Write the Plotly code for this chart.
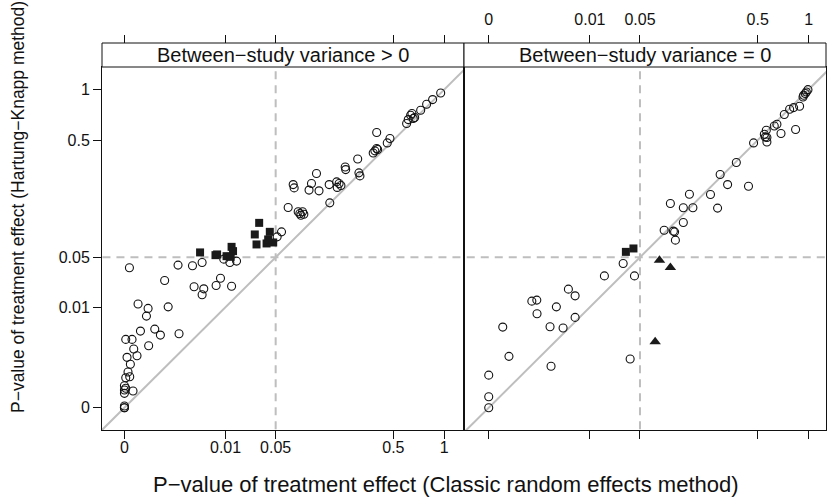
import plotly.graph_objects as go

# ---------------- data (p-values) ----------------
tick_p = [0, 0.01, 0.05, 0.5, 1]
tick_labels = ["0", "0.01", "0.05", "0.5", "1"]

# Panel 1: Between-study variance > 0
left_circ_classic = [0.956, 0.862, 0.797, 0.736, 0.678, 0.641, 0.620, 0.606, 0.653, 0.665,
                     0.387, 0.475, 0.456, 0.387, 0.376, 0.366, 0.393, 0.283, 0.227, 0.229,
                     0.289, 0.294, 0.130, 0.0775, 0.0793, 0.117, 0.111, 0.137, 0.168, 0.194,
                     0.203, 0.196, 0.210, 0.170, 0.0687, 0.0871, 0.0962, 0.0926, 0.099, 0.0905,
                     0.0582, 0.052, 0.0151, 0.0118, 0.00932, 0.0126, 6e-8, 7.9e-4, 0.00205, 0.00348,
                     2.5e-4, 0.00225, 0.00379, 0.00348, 0.00814, 0.00675, 3.3e-6, 3.0e-5, 2.25e-5, 3.5e-4,
                     6.3e-6, 8.1e-5, 1.6e-4, 8.5e-4, 3e-10, 3.2e-7, 3.3e-5, 7.2e-7, 2.4e-6, 4.4e-9,
                     1.2e-7, 1.6e-8, 7.6e-8, 3e-10, 0, 3e-10, 0, 0, 5.2e-7, 0, 0, 0]
left_circ_hk = [0.958, 0.880, 0.828, 0.764, 0.692, 0.714, 0.673, 0.637, 0.731, 0.683,
                0.560, 0.513, 0.480, 0.441, 0.425, 0.411, 0.434, 0.374, 0.328, 0.314,
                0.297, 0.282, 0.294, 0.242, 0.228, 0.247, 0.219, 0.216, 0.242, 0.254,
                0.247, 0.230, 0.238, 0.172, 0.157, 0.144, 0.144, 0.134, 0.137, 0.139,
                0.0934, 0.0832, 0.0451, 0.0435, 0.0476, 0.0213, 0.0374, 0.0404, 0.0396, 0.0435,
                0.0256, 0.0209, 0.0195, 0.0159, 0.0275, 0.0218, 0.0113, 0.0095, 0.00688, 0.0101,
                0.00337, 0.00373, 0.00272, 0.00292, 0.00213, 0.00213, 0.00144, 0.00116, 7.1e-4, 6.3e-4,
                3.5e-4, 1.6e-4, 9.0e-5, 7.9e-5, 2.3e-5, 1.4e-5, 9.5e-6, 4.2e-6, 7.6e-6, 1e-9, 0, 0]
left_sq_classic = [0.00313, 0.00657, 0.00705, 0.0104, 0.0126, 0.0133, 0.0122,
                   0.0315, 0.0276, 0.0427, 0.0291, 0.039, 0.0468, 0.0408]
left_sq_hk = [0.0568, 0.0529, 0.0539, 0.0515, 0.0654, 0.0587, 0.0506,
              0.114, 0.088, 0.0934, 0.0694, 0.0711, 0.0728, 0.0783]

# Panel 2: Between-study variance = 0
right_circ_classic = [0.992, 0.972, 0.939, 0.959, 0.932, 0.892, 0.825, 0.783, 0.729, 0.847,
                      0.659, 0.635, 0.697, 0.567, 0.551, 0.572, 0.572, 0.559, 0.470, 0.359,
                      0.274, 0.311, 0.435, 0.155, 0.231, 0.104, 0.137, 0.166, 0.262, 0.137,
                      0.0905, 0.111, 0.114, 0.116, 0.0312, 0.0171, 0.0431, 0.00385, 0.00532, 3.3e-4,
                      5.1e-4, 0.0020, 5.2e-4, 0.00532, 3.7e-6, 0.00135, 0.00292, 1.6e-5, 0.00144, 0.0382,
                      0, 0, 0]
right_circ_hk = [0.999, 0.970, 0.930, 0.951, 0.910, 0.806, 0.792, 0.775, 0.721, 0.585,
                 0.630, 0.615, 0.552, 0.579, 0.546, 0.520, 0.487, 0.525, 0.480, 0.353,
                 0.289, 0.242, 0.235, 0.203, 0.202, 0.170, 0.156, 0.156, 0.155, 0.115,
                 0.0970, 0.0949, 0.0934, 0.0770, 0.0423, 0.0295, 0.0295, 0.0193, 0.0153, 0.0126,
                 0.0131, 0.0101, 0.0076, 0.0065, 0.00413, 0.00419, 0.00393, 6.8e-4, 2.9e-4, 5.5e-4,
                 1.1e-4, 1.4e-6, 0]
right_sq_classic = [0.0338, 0.0419]
right_sq_hk = [0.0576, 0.0628]
right_tri_classic = [0.0812, 0.104, 0.0733]
right_tri_hk = [0.0463, 0.0378, 0.00185]

alpha = 0.05
strip_labels = ["Between\u2212study variance > 0", "Between\u2212study variance = 0"]
xlab = "P\u2212value of treatment effect (Classic random effects method)"
ylab = "P\u2212value of treatment effect (Hartung\u2212Knapp method)"


def fr(v):
    return [p ** 0.25 for p in v]


tickvals = fr(tick_p)
FONT = "Liberation Sans, Arial, sans-serif"
REF = "#BEBEBE"
INK = "#111111"

fig = go.Figure()

for xa, ya in (("x", "y"), ("x2", "y2")):
    fig.add_trace(go.Scatter(x=[-0.2, 1.2], y=[-0.2, 1.2], mode="lines", xaxis=xa, yaxis=ya,
                             line=dict(color=REF, width=2), hoverinfo="skip", showlegend=False))
    a = alpha ** 0.25
    fig.add_trace(go.Scatter(x=[a, a], y=[-0.2, 1.2], mode="lines", xaxis=xa, yaxis=ya,
                             line=dict(color=REF, width=2, dash="8px,6px"), hoverinfo="skip", showlegend=False))
    fig.add_trace(go.Scatter(x=[-0.2, 1.2], y=[a, a], mode="lines", xaxis=xa, yaxis=ya,
                             line=dict(color=REF, width=2, dash="8px,6px"), hoverinfo="skip", showlegend=False))

circ = dict(symbol="circle-open", size=8, color=INK, line=dict(width=1.1, color=INK))
sq = dict(symbol="square", size=8, color="#1a1a1a", line=dict(width=0))
tri = dict(symbol="triangle-up", size=10, color="#1a1a1a", line=dict(width=0))

fig.add_trace(go.Scatter(x=fr(left_circ_classic), y=fr(left_circ_hk), mode="markers", marker=circ,
                         xaxis="x", yaxis="y", showlegend=False))
fig.add_trace(go.Scatter(x=fr(left_sq_classic), y=fr(left_sq_hk), mode="markers", marker=sq,
                         xaxis="x", yaxis="y", showlegend=False))
fig.add_trace(go.Scatter(x=fr(right_circ_classic), y=fr(right_circ_hk), mode="markers", marker=circ,
                         xaxis="x2", yaxis="y2", showlegend=False))
fig.add_trace(go.Scatter(x=fr(right_sq_classic), y=fr(right_sq_hk), mode="markers", marker=sq,
                         xaxis="x2", yaxis="y2", showlegend=False))
fig.add_trace(go.Scatter(x=fr(right_tri_classic), y=fr(right_tri_hk), mode="markers", marker=tri,
                         xaxis="x2", yaxis="y2", showlegend=False))
fig.add_trace(go.Scatter(x=[None], y=[None], xaxis="x3", yaxis="y", showlegend=False))
fig.add_trace(go.Scatter(x=[None], y=[None], xaxis="x4", yaxis="y2", showlegend=False))

xr1 = [-0.0701, 1.0617]
xr2 = [-0.0773, 1.0544]
yr = [-0.070, 1.071]
ydom = [0, 363 / 387]

common_ax = dict(showgrid=False, zeroline=False, tickvals=tickvals, ticktext=tick_labels,
                 ticks="outside", ticklen=8, tickwidth=1, tickcolor=INK,
                 tickfont=dict(family=FONT, size=16, color=INK))

fig.update_layout(
    width=828, height=503,
    margin=dict(l=102, r=2, t=43, b=73),
    paper_bgcolor="white", plot_bgcolor="white",
    font=dict(family=FONT, color=INK),
    xaxis=dict(domain=[0, 0.5], range=xr1, anchor="y", showline=True, linecolor=INK, linewidth=1,
               mirror=True, ticklabelstandoff=-5, **common_ax),
    xaxis2=dict(domain=[0.5, 1], range=xr2, anchor="y2", showline=True, linecolor=INK, linewidth=1,
                mirror=True, showticklabels=False, **common_ax),
    xaxis3=dict(domain=[0, 0.5], range=xr1, overlaying="x", side="top", anchor="free", position=1,
                showline=False, showticklabels=False, **common_ax),
    xaxis4=dict(domain=[0.5, 1], range=xr2, overlaying="x2", side="top", anchor="free", position=1,
                showline=False, ticklabelstandoff=4, **common_ax),
    yaxis=dict(domain=ydom, range=yr, anchor="x", showline=True, linecolor=INK, linewidth=1,
               mirror=True, **common_ax),
    yaxis2=dict(domain=ydom, range=yr, anchor="x2", showline=True, linecolor=INK, linewidth=1,
                mirror=True, showgrid=False, zeroline=False, showticklabels=False, ticks=""),
)

for i, (x0, x1) in enumerate(((0, 0.5), (0.5, 1))):
    fig.add_shape(type="rect", xref="paper", yref="paper", x0=x0, x1=x1, y0=ydom[1], y1=1,
                  line=dict(color=INK, width=1), fillcolor="white", layer="above")
    fig.add_annotation(xref="paper", yref="paper", x=(x0 + x1) / 2, y=(ydom[1] + 1) / 2,
                       text=strip_labels[i], showarrow=False, xanchor="center", yanchor="middle",
                       font=dict(family=FONT, size=20, color=INK))

fig.add_annotation(xref="paper", yref="paper", x=(446 - 102) / 724, y=(430 - 484) / 387,
                   text=xlab, showarrow=False, xanchor="center", yanchor="middle",
                   font=dict(family=FONT, size=22, color=INK))
fig.add_annotation(xref="paper", yref="paper", x=(18 - 102) / 724, y=(430 - 207) / 387,
                   text=ylab, showarrow=False, xanchor="center", yanchor="middle", textangle=-90,
                   font=dict(family=FONT, size=17.5, color=INK))

fig.write_html("out.html")
